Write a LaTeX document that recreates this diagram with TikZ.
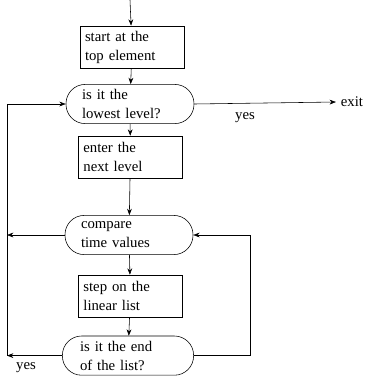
\documentclass[tikz,border=0pt]{standalone}
\usepackage{fontspec}
\setmainfont{Liberation Serif}
\usetikzlibrary{arrows.meta, positioning}

\begin{document}
\begin{tikzpicture}[
        stepbox/.style={rectangle, draw, thin, text width=2.35cm, minimum width=2.6cm, minimum height=1.05cm, align=left, inner sep=1.5pt, font=\fontsize{10.5}{13.5}\selectfont},
        ask/.style={rectangle, rounded corners=0.48cm, draw, thin, text width=2.4cm, minimum width=3.2cm, minimum height=0.98cm, align=left, inner sep=1.5pt, font=\fontsize{10.5}{13.5}\selectfont},
        lbl/.style={font=\fontsize{10.5}{13.5}\selectfont},
        arr/.style={-{Stealth[length=1.6mm, width=1.2mm]}, thin}
      ]
        \useasboundingbox (0,0) rectangle (9.225,-9.4);

        \coordinate (in) at (3.25,0);
        \node[stepbox] (start) at (3.3,-1.175) {start at the\\top element};
        \node[ask] (lowest) at (3.25,-2.6) {is it the\\lowest level?};
        \node[stepbox] (enter) at (3.26,-3.925) {enter the\\next level};
        \node[ask] (compare) at (3.225,-5.875) {compare\\time values};
        \node[stepbox] (stepon) at (3.26,-7.4) {step on the\\linear list};
        \node[ask, minimum width=3.28cm] (endlist) at (3.2,-8.89) {is it the end\\of the list?};
        \node[lbl] (exit) at (8.8,-2.55) {exit};

        % loop corners
        \coordinate (lb) at (0.175,-8.89);
        \coordinate (rb) at (6.25,-8.89);

        \draw[arr] (in) -- (start);
        \draw[arr] (start) -- (lowest);
        \draw[arr] (lowest) -- (enter);
        \draw[arr] (enter) -- (compare);
        \draw[arr] (compare) -- (stepon);
        \draw[arr] (stepon) -- (endlist);

        \draw[arr] (lowest.east) -- (exit.west);
        \node[lbl] (yes1) at (6.125,-2.93) {yes};

        \draw[arr] (endlist.west) -- (lb);
        \draw[arr] (lb) |- (lowest.west);
        \draw[arr] (compare.west) -- (compare.west -| lb);
        \node[lbl] (yes2) at (0.65,-9.2) {yes};

        \draw[arr] (endlist.east) -- (rb) |- (compare.east);
      \end{tikzpicture}
\end{document}
